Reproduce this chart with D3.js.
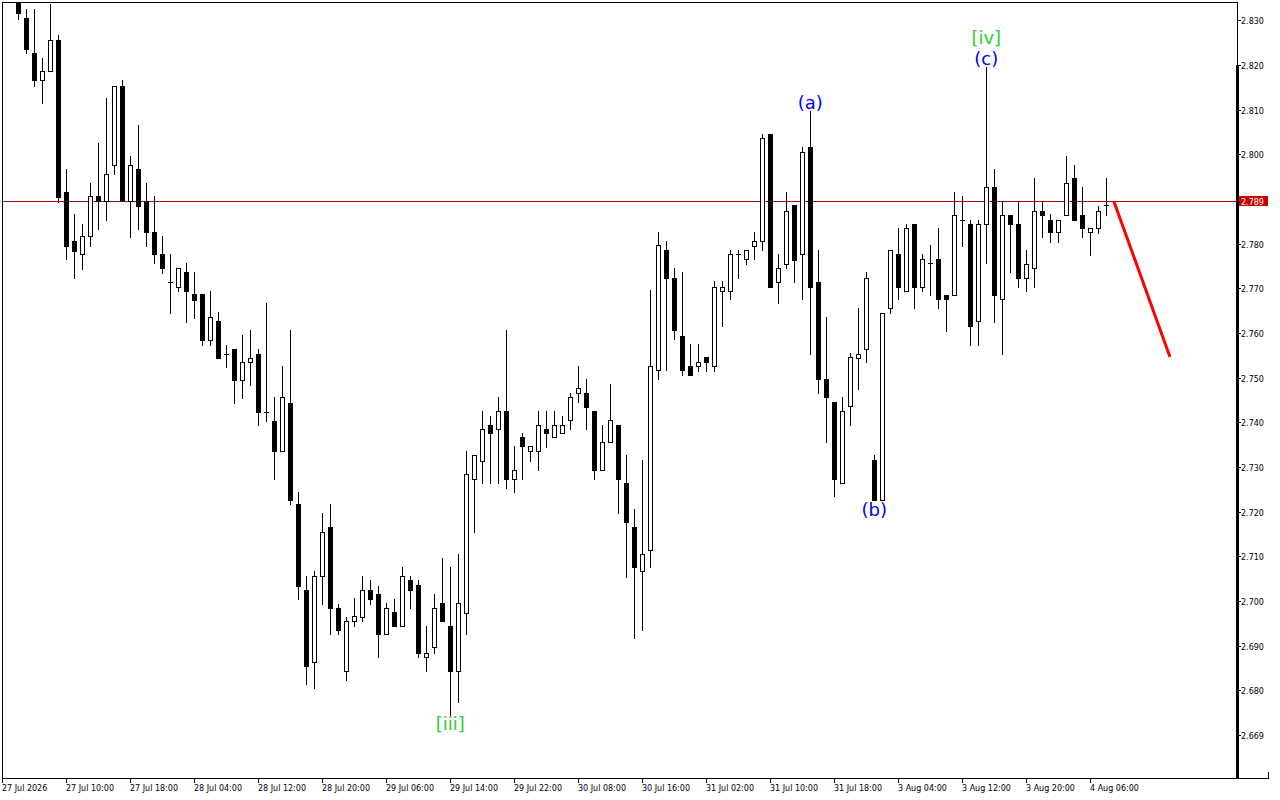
<!DOCTYPE html>
<html>
<head>
<meta charset="utf-8">
<script src="https://cdn.jsdelivr.net/npm/d3@7"></script>
<style>
  html, body { margin: 0; padding: 0; background: #ffffff; }
  svg { display: block; }
</style>
</head>
<body>
<svg id="chart" width="1280" height="800"></svg>
<script>
// ---------------- DATA (H1 candles, first bar index = 2) ----------------
const firstBar = 2;
const opens = [2.8355,2.8305,2.8226,2.8166,2.8186,2.8255,2.7915,2.7806,2.7776,2.7816,
2.7906,2.7895,2.7975,2.8154,2.7895,2.7966,2.7895,2.7825,2.7776,2.7715,
2.7704,2.7736,2.7687,2.7687,2.7585,2.7626,2.7553,2.7565,2.7495,2.7536,
2.7554,2.7424,2.7404,2.7335,2.7444,2.7216,2.7025,2.6864,2.7055,2.7165,
2.6985,2.6844,2.6956,2.6965,2.7025,2.7015,2.6925,2.6975,2.6945,2.7046,
2.7035,2.6875,2.6896,2.6995,2.6945,2.6844,2.6974,2.7274,2.7314,2.7395,
2.7386,2.7425,2.7274,2.7366,2.7335,2.7335,2.7386,2.7366,2.7375,2.7405,
2.7465,2.7465,2.7425,2.7294,2.7355,2.7395,2.7265,2.7165,2.7066,2.7115,
2.7516,2.7786,2.7724,2.7594,2.7526,2.7526,2.7546,2.7526,2.7695,2.7695,
2.7776,2.7765,2.7795,2.7805,2.8045,2.7715,2.7755,2.7886,2.7776,2.8016,
2.7715,2.7496,2.7445,2.7265,2.7436,2.7545,2.7565,2.7315,2.7225,2.7656,
2.7776,2.7695,2.7845,2.7704,2.7756,2.7765,2.7686,2.7686,2.7854,2.7845,
2.7626,2.7845,2.7926,2.7675,2.7865,2.7845,2.7724,2.7745,2.7874,2.7854,
2.7825,2.7865,2.7946,2.7865,2.7825,2.7834,2.7886];
const highs = [2.8362,2.8325,2.8325,2.8215,2.8337,2.8267,2.7967,2.7866,2.7845,2.7936,
2.8025,2.8126,2.8154,2.8166,2.7996,2.8066,2.7936,2.7906,2.7816,2.7776,
2.7745,2.7756,2.7736,2.7687,2.7695,2.7646,2.7574,2.7565,2.7595,2.7606,
2.7565,2.7666,2.7456,2.7526,2.7606,2.7245,2.7055,2.7066,2.7196,2.7216,
2.6994,2.6965,2.7006,2.7055,2.7046,2.7034,2.6995,2.7005,2.7075,2.7055,
2.7046,2.6945,2.7015,2.7096,2.7075,2.7106,2.7335,2.7326,2.7425,2.7415,
2.7456,2.7606,2.7346,2.7376,2.7346,2.7425,2.7425,2.7425,2.7415,2.7465,
2.7526,2.7496,2.7425,2.7395,2.7486,2.7395,2.7326,2.7206,2.7315,2.7696,
2.7826,2.7806,2.7745,2.7736,2.7575,2.7575,2.7546,2.7716,2.7716,2.7786,
2.7786,2.7785,2.7825,2.8045,2.8045,2.7776,2.7915,2.7886,2.8016,2.8097,
2.7786,2.7635,2.7445,2.7456,2.7555,2.7656,2.7736,2.7326,2.7645,2.7785,
2.7834,2.7845,2.7845,2.7776,2.7796,2.7834,2.7686,2.7915,2.7906,2.7854,
2.7854,2.8196,2.7966,2.7895,2.7865,2.7895,2.7786,2.7946,2.7894,2.7866,
2.7854,2.7996,2.7976,2.7926,2.7834,2.7885,2.7946];
const lows = [2.8304,2.8226,2.8154,2.8115,2.8186,2.7894,2.7765,2.7724,2.7744,2.7795,
2.7833,2.7853,2.7955,2.7895,2.7815,2.7833,2.7795,2.7756,2.7735,2.7645,
2.7694,2.7625,2.7634,2.7573,2.7573,2.7544,2.7524,2.7443,2.7455,2.7484,
2.7395,2.7403,2.7273,2.7335,2.7216,2.7005,2.6815,2.6806,2.6994,2.6925,
2.6925,2.6824,2.6945,2.6955,2.6993,2.6875,2.6925,2.6945,2.6945,2.6985,
2.6875,2.6844,2.6884,2.6955,2.6744,2.6774,2.6925,2.7155,2.7264,2.7264,
2.7264,2.7253,2.7243,2.7274,2.7314,2.7294,2.7345,2.7366,2.7375,2.7385,
2.7445,2.7385,2.7274,2.7294,2.7355,2.7196,2.7054,2.6916,2.6936,2.7075,
2.7496,2.7516,2.7586,2.7505,2.7505,2.7515,2.7515,2.7515,2.7615,2.7675,
2.7724,2.7755,2.7765,2.7785,2.7704,2.7666,2.7745,2.7715,2.7675,2.7554,
2.7465,2.7356,2.7235,2.7265,2.7395,2.7475,2.7536,2.7225,2.7225,2.7645,
2.7675,2.7695,2.7655,2.7695,2.7685,2.7655,2.7605,2.7686,2.7795,2.7574,
2.7574,2.7756,2.7625,2.7554,2.7736,2.7704,2.7695,2.7704,2.7815,2.7804,
2.7804,2.7865,2.7854,2.7815,2.7775,2.7824,2.7865];
const closes = [2.8316,2.8235,2.8166,2.8186,2.8255,2.7905,2.7795,2.7784,2.7816,2.7906,
2.7895,2.7955,2.8154,2.7895,2.7975,2.7885,2.7825,2.7776,2.7745,2.7715,
2.7745,2.7694,2.7674,2.7585,2.7635,2.7544,2.7553,2.7495,2.7536,2.7545,
2.7423,2.7424,2.7335,2.7456,2.7225,2.7034,2.6855,2.7055,2.7155,2.6985,
2.6936,2.6956,2.6966,2.7025,2.7005,2.6925,2.6985,2.6945,2.7055,2.7025,
2.6884,2.6884,2.6985,2.6955,2.6844,2.6995,2.7285,2.7326,2.7386,2.7375,
2.7425,2.7274,2.7294,2.7346,2.7346,2.7395,2.7375,2.7395,2.7395,2.7456,
2.7476,2.7435,2.7294,2.7355,2.7405,2.7274,2.7176,2.7075,2.7106,2.7526,
2.7796,2.7724,2.7606,2.7516,2.7505,2.7536,2.7536,2.7704,2.7704,2.7776,
2.7776,2.7785,2.7805,2.8036,2.7704,2.7745,2.7874,2.7764,2.8005,2.7704,
2.7496,2.7456,2.7274,2.7425,2.7546,2.7554,2.7724,2.7225,2.7645,2.7785,
2.7704,2.7834,2.7704,2.7765,2.7756,2.7675,2.7675,2.7865,2.7854,2.7615,
2.7845,2.7926,2.7685,2.7865,2.7845,2.7724,2.7755,2.7874,2.7865,2.7825,
2.7854,2.7935,2.7854,2.7834,2.7834,2.7874,2.7886];

const currentPrice = 2.7894;

// y-axis ticks
const priceTicks = [2.830,2.820,2.810,2.800,2.790,2.780,2.770,2.760,2.750,2.740,2.730,2.720,2.710,2.700,2.690,2.680,2.670];
const priceTickLabels = ["2.830","2.820","2.810","2.800","2.790","2.780","2.770","2.760","2.750","2.740","2.730","2.720","2.710","2.700","2.690","2.680","2.669"];

// time axis labels, every 8 bars from bar 0
const timeLabelBars = [0,8,16,24,32,40,48,56,64,72,80,88,96,104,112,120,128,136];
const timeLabels = ["27 Jul 2026","27 Jul 10:00","27 Jul 18:00","28 Jul 04:00","28 Jul 12:00","28 Jul 20:00",
"29 Jul 06:00","29 Jul 14:00","29 Jul 22:00","30 Jul 08:00","30 Jul 16:00","31 Jul 02:00",
"31 Jul 10:00","31 Jul 18:00","3 Aug 04:00","3 Aug 12:00","3 Aug 20:00","4 Aug 06:00"];

// wave labels
const waveTexts = ["[iii]","(a)","(b)","(c)","[iv]"];
const waveBars  = [56,101,109,123,123];

// forecast line
const forecastBars = [139,146];
const forecastPrices = [2.7894,2.7546];

// ---------------- DRAWING ----------------
const svg = d3.select("#chart");
const L = 2, T = 2, R = 1237, B = 778;
const FONT = "DejaVu Sans, Verdana, sans-serif";

const x = d3.scaleLinear().domain([0, 1]).range([2, 10]);   // 8px per bar
const y = d3.scaleLinear().domain([2.680, 2.830]).range([690.3, 20.3]);

const candles = opens.map((o, k) => ({
  i: firstBar + k, o, h: highs[k], l: lows[k], c: closes[k]
}));

svg.append("defs").append("clipPath").attr("id", "plotClip")
  .append("rect").attr("x", L + 1).attr("y", T + 1).attr("width", R - L - 1).attr("height", B - T - 1);

const plot = svg.append("g").attr("clip-path", "url(#plotClip)");

// current price line
const py = Math.floor(y(currentPrice)) + 0.5;
plot.append("line").attr("x1", L).attr("x2", R).attr("y1", py).attr("y2", py)
  .attr("stroke", "#a00000").attr("stroke-width", 1);

// candles
const cg = plot.append("g");
candles.forEach(d => {
  const cx = Math.floor(x(d.i));
  const yH = Math.round(y(d.h)), yL = Math.round(y(d.l));
  const top = Math.round(y(Math.max(d.o, d.c)));
  const bot = Math.round(y(Math.min(d.o, d.c)));
  cg.append("line").attr("x1", cx + 0.5).attr("x2", cx + 0.5)
    .attr("y1", yH).attr("y2", yL + 1).attr("stroke", "#000").attr("stroke-width", 1);
  if (bot - top < 1) {
    cg.append("line").attr("x1", cx - 2).attr("x2", cx + 3)
      .attr("y1", top + 0.5).attr("y2", top + 0.5).attr("stroke", "#000").attr("stroke-width", 1);
  } else if (d.c < d.o) {
    cg.append("rect").attr("x", cx - 2).attr("y", top).attr("width", 5).attr("height", bot - top + 1)
      .attr("fill", "#000");
  } else {
    cg.append("rect").attr("x", cx - 1.5).attr("y", top + 0.5).attr("width", 4).attr("height", bot - top)
      .attr("fill", "#fff").attr("stroke", "#000").attr("stroke-width", 1);
  }
});

// forecast red line
const fl = d3.line().x(d => x(d[0])).y(d => y(d[1]));
plot.append("path").datum(forecastBars.map((b, k) => [b, forecastPrices[k]]))
  .attr("d", fl).attr("fill", "none").attr("stroke", "#ff0000").attr("stroke-width", 3);

// wave labels
waveTexts.forEach((t, k) => {
  const d = candles[waveBars[k] - firstBar];
  const green = t.startsWith("[");
  let base;
  if (t === "(a)" || t === "(c)") base = y(d.h) - 1.5;
  else if (t === "[iv]") base = y(d.h) - 23;
  else if (t === "(b)") base = y(d.l) + 16;
  else base = y(d.l) + 15;
  svg.append("text").attr("x", x(d.i) + 0.3).attr("y", base)
    .attr("text-anchor", "middle").attr("font-family", FONT).attr("font-size", 18)
    .attr("fill", green ? "#32cd32" : "#0000ff").text(t);
});

// frame
svg.append("line").attr("x1", L).attr("x2", R + 1).attr("y1", T + 0.5).attr("y2", T + 0.5).attr("stroke", "#000");
svg.append("line").attr("x1", L + 0.5).attr("x2", L + 0.5).attr("y1", T).attr("y2", B + 1).attr("stroke", "#000");
svg.append("line").attr("x1", R + 0.5).attr("x2", R + 0.5).attr("y1", T).attr("y2", B + 1).attr("stroke", "#000");
svg.append("line").attr("x1", L).attr("x2", 1269).attr("y1", B + 0.5).attr("y2", B + 0.5).attr("stroke", "#000");
svg.append("line").attr("x1", 1268.5).attr("x2", 1268.5).attr("y1", 772).attr("y2", B + 1).attr("stroke", "#000");
// thick segment of the right edge
svg.append("rect").attr("x", R - 1).attr("y", Math.round(y(2.820))).attr("width", 3)
  .attr("height", B + 1 - Math.round(y(2.820))).attr("fill", "#000");

// y-axis ticks and labels
const ya = svg.append("g");
priceTicks.forEach((v, k) => {
  const ty = Math.round(y(v)) + 0.5;
  ya.append("line").attr("x1", R).attr("x2", R + 4).attr("y1", ty).attr("y2", ty).attr("stroke", "#000");
  ya.append("text").attr("x", R + 4).attr("y", ty + 3).attr("font-family", FONT).attr("font-size", 8)
    .attr("fill", "#000").text(priceTickLabels[k]);
});

// current price box
const pby = Math.floor(y(currentPrice));
svg.append("rect").attr("x", R + 2).attr("y", pby - 5).attr("width", 29).attr("height", 10).attr("fill", "#cc0000");
svg.append("text").attr("x", R + 4).attr("y", pby + 3.5).attr("font-family", FONT).attr("font-size", 8)
  .attr("fill", "#fff").text(d3.format(".3f")(currentPrice));

// time axis
const xa = svg.append("g");
timeLabelBars.forEach((b, k) => {
  const tx = Math.floor(x(b)) + 0.5;
  xa.append("line").attr("x1", tx).attr("x2", tx).attr("y1", B).attr("y2", B + 5).attr("stroke", "#000");
  xa.append("text").attr("x", tx - 0.5).attr("y", 791).attr("font-family", FONT).attr("font-size", 8)
    .attr("fill", "#000").text(timeLabels[k]);
});
</script>
</body>
</html>
